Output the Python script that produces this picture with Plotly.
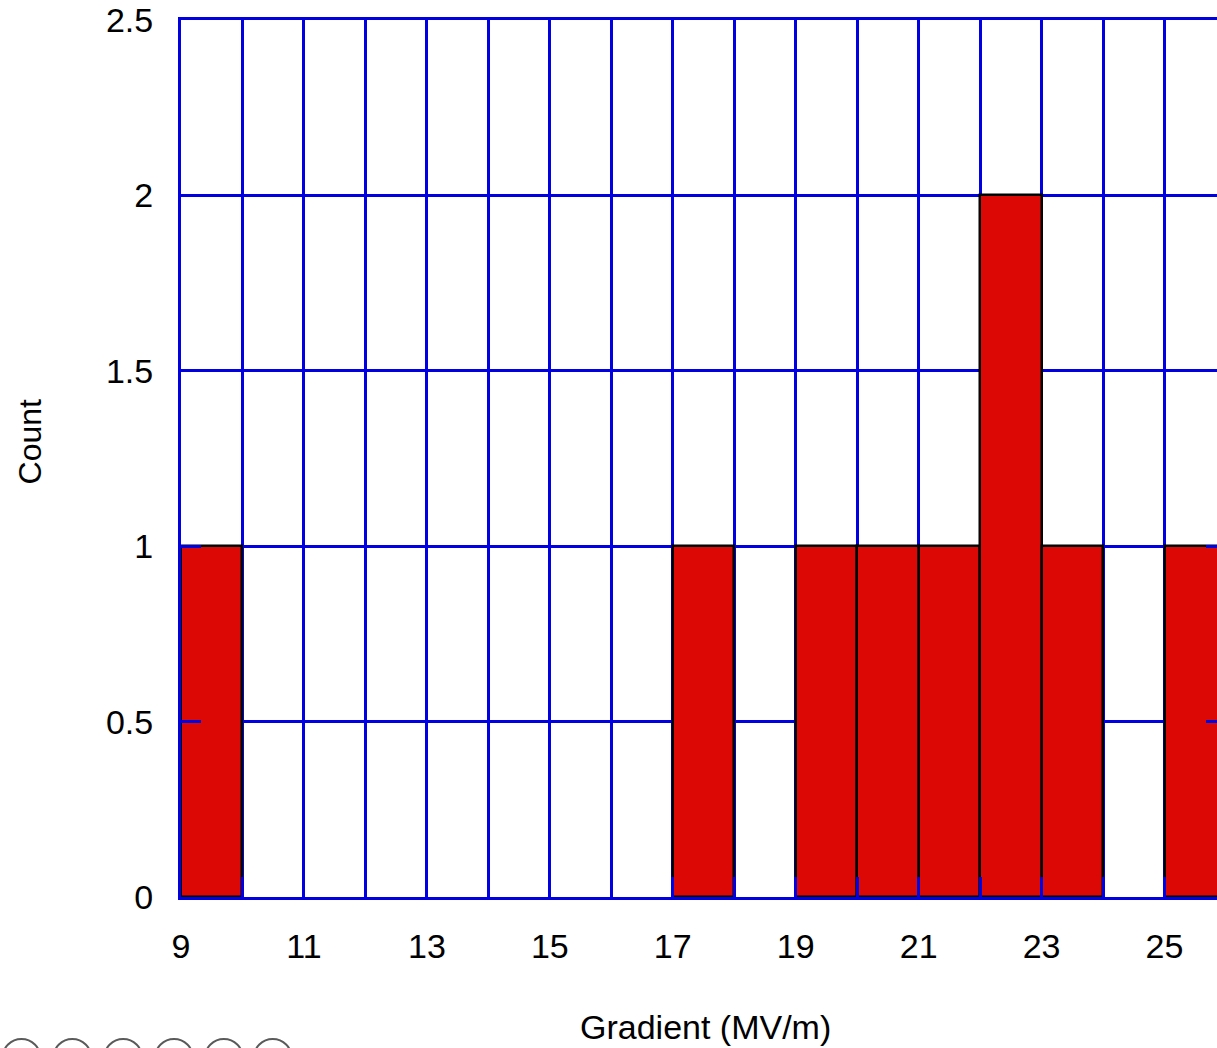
import plotly.graph_objects as go

# Histogram data (bin left edges, counts), bin width 1 MV/m
bin_left = [9, 17, 19, 20, 21, 22, 23, 25]
counts = [1, 1, 1, 1, 1, 2, 1, 1]
bin_width = 1

x_range = [9, 26]
y_range = [0, 2.5]

BLUE = "#0000E0"
RED = "#DC0805"

fig = go.Figure()
fig.add_trace(go.Bar(
    x=[b + bin_width / 2 for b in bin_left],
    y=counts,
    width=bin_width,
    marker=dict(color=RED, line=dict(color="black", width=2.5)),
    showlegend=False,
))

# figure is a bit wider than the window: the right edge is cropped as in the reference
W, H = 1229, 1048
L, R, T, B = 181, 0, 20, 151
pw, ph = W - L - R, H - T - B

shapes = []
for cx in [21, 72, 123, 174, 224, 273]:
    r = 19
    cy = 1058
    shapes.append(dict(
        type="circle", xref="paper", yref="paper",
        x0=(cx - r - L) / pw, x1=(cx + r - L) / pw,
        y0=(H - B - (cy + r)) / ph, y1=(H - B - (cy - r)) / ph,
        line=dict(color="rgb(90,90,90)", width=2),
    ))

fig.update_layout(
    width=W, height=H,
    margin=dict(l=L, r=R, t=T, b=B, pad=0),
    plot_bgcolor="white", paper_bgcolor="white",
    font=dict(family="Liberation Sans, Arial, sans-serif", color="black", size=34),
    bargap=0,
    shapes=shapes,
    annotations=[
        dict(text="Gradient (MV/m)", xref="paper", yref="paper",
             x=(707 - L) / pw, y=(H - B - 1027) / ph,
             xanchor="center", yanchor="middle", showarrow=False,
             font=dict(size=34)),
        dict(text="Count", xref="paper", yref="paper",
             x=(30 - L) / pw, y=(H - B - 441) / ph, textangle=-90,
             xanchor="center", yanchor="middle", showarrow=False,
             font=dict(size=32)),
    ],
)

fig.update_xaxes(
    range=x_range, tick0=9, dtick=2,
    showgrid=True, gridcolor=BLUE, gridwidth=2.5,
    showline=True, linecolor=BLUE, linewidth=3, mirror="ticks",
    ticks="inside", ticklen=20, tickwidth=3, tickcolor=BLUE,
    ticklabelstandoff=17, zeroline=False,
    minor=dict(tick0=9, dtick=1, ticks="inside", ticklen=20, tickwidth=3,
               tickcolor=BLUE, showgrid=True, gridcolor=BLUE, gridwidth=2.5),
)
fig.update_yaxes(
    range=y_range, dtick=0.5,
    showgrid=True, gridcolor=BLUE, gridwidth=2.5,
    showline=True, linecolor=BLUE, linewidth=3, mirror="ticks",
    ticks="inside", ticklen=20, tickwidth=3, tickcolor=BLUE,
    ticklabelstandoff=18, zeroline=False,
)

fig.write_html(
    "out.html",
    config={"displayModeBar": False},
    post_script="document.body.style.margin='0';document.body.style.overflow='hidden';",
)
